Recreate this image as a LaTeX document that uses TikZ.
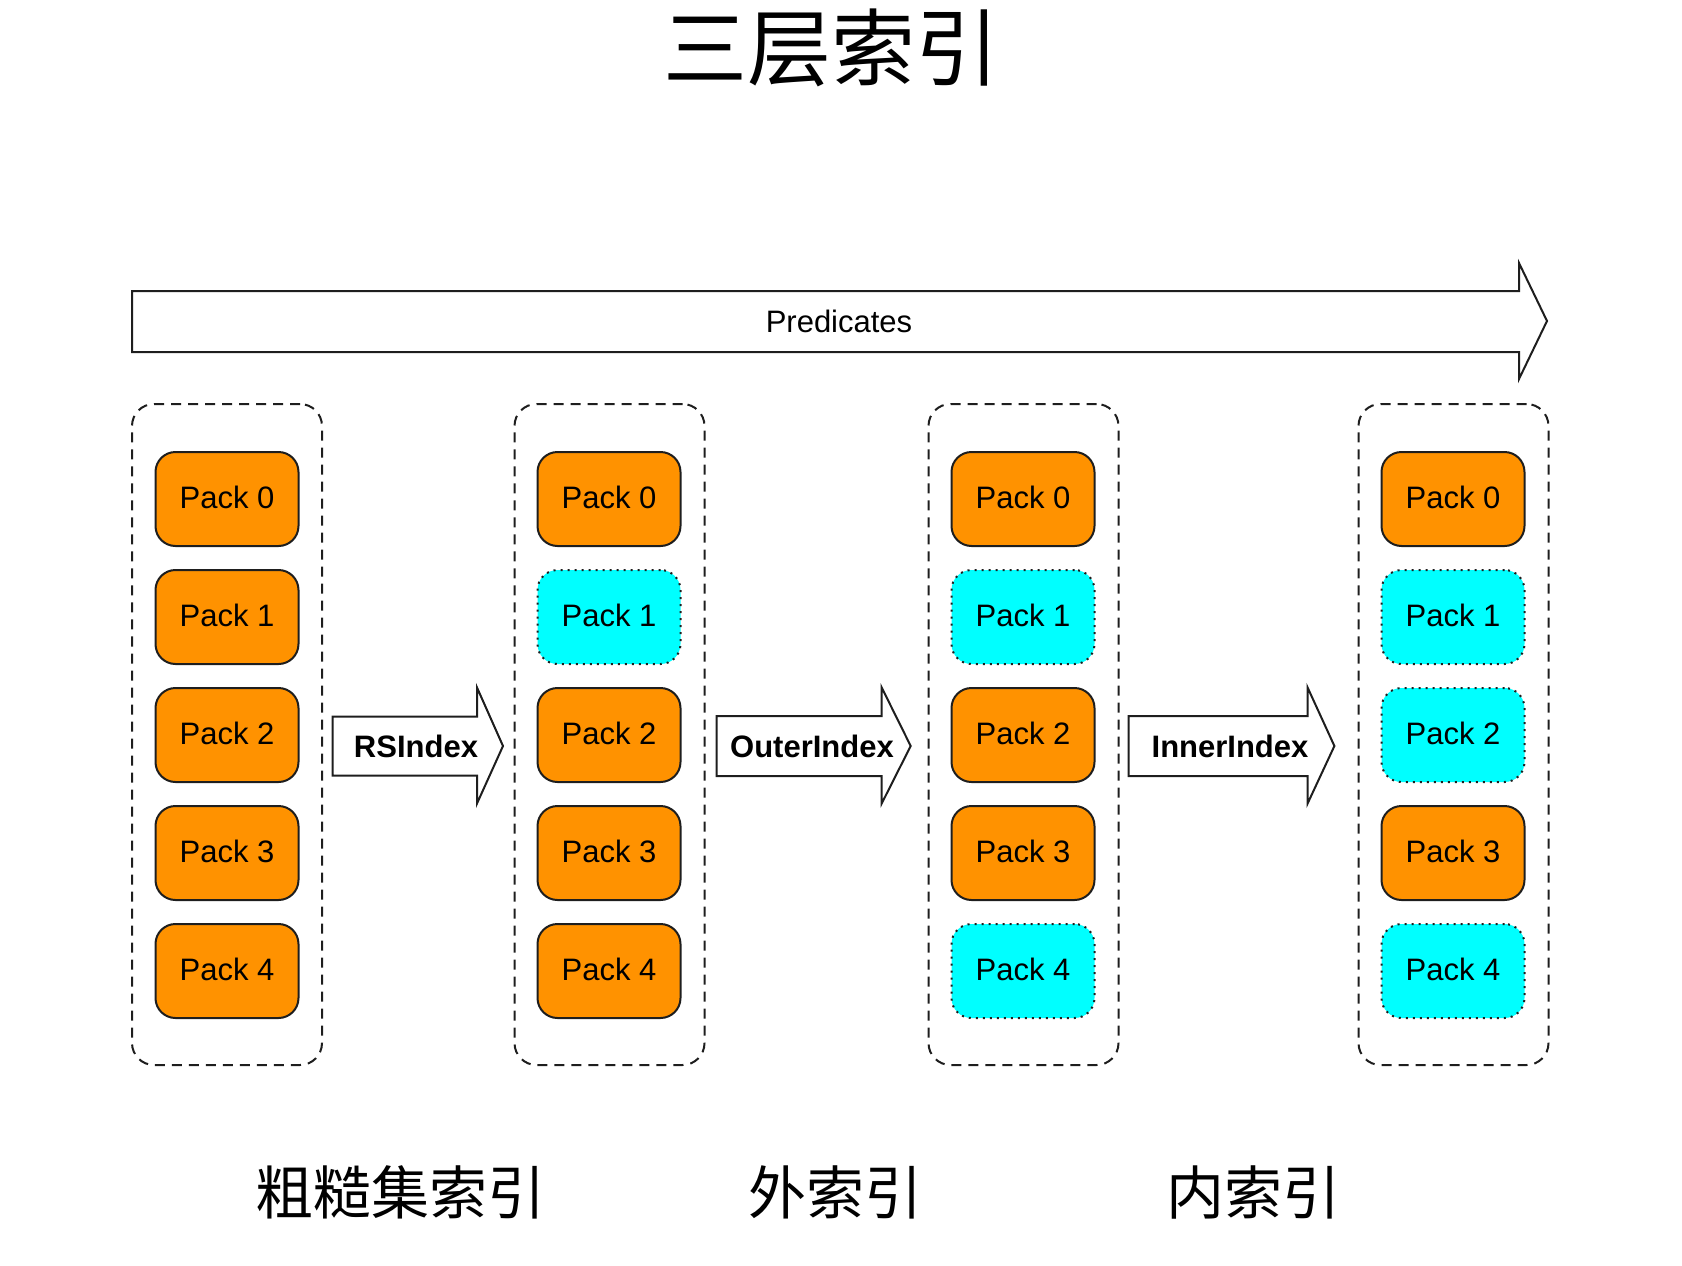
\documentclass[tikz,border=0pt]{standalone}
\usepackage{fontspec}
\setmainfont{Liberation Sans}
\newfontfamily\cjk{Noto Sans CJK SC}
\definecolor{orangeC}{RGB}{255,146,0}
\definecolor{cyanC}{RGB}{0,255,255}
\definecolor{lineC}{RGB}{30,30,30}
\newcommand\pktext[1]{\raisebox{4pt}{Pack #1}}
\begin{document}
\begin{tikzpicture}[x=1pt,y=-1pt,
 pk/.style={draw=lineC, line width=2pt, rounded corners=20pt, minimum width=143pt, minimum height=94pt, font=\fontsize{31}{31}\selectfont, inner sep=0pt},
 og/.style={pk, fill=orangeC},
 cy/.style={pk, fill=cyanC, dash pattern=on 2pt off 5pt},
 cont/.style={draw=lineC, line width=2pt, dash pattern=on 10pt off 7pt, rounded corners=22pt, minimum width=190pt, minimum height=661pt, inner sep=0pt},
 blk/.style={draw=lineC, line width=2pt, fill=white, line join=miter},
 lbl/.style={font=\fontsize{31}{31}\selectfont, inner sep=0pt},
 blbl/.style={font=\bfseries\fontsize{31}{31}\selectfont, inner sep=0pt},
 cjkl/.style={font=\cjk\fontsize{58}{58}\selectfont, inner sep=0pt},
]
\useasboundingbox (0,0) rectangle (1682,1266);

% title
\node[font=\cjk\fontsize{84}{84}\selectfont, inner sep=0pt] (title) at (831,48) {三层索引};

% predicates arrow
\draw[blk] (132,291) coordinate (pa) -- (1519,291) -- (1519,263) -- (1547,321) -- (1519,379) -- (1519,352) -- (132,352) -- cycle;
\node[lbl] (pred) at (839,321) {Predicates};

% containers
\node[cont] (c1) at (227,734.5) {};
\node[cont] (c2) at (609.5,734.5) {};
\node[cont] (c3) at (1023.5,734.5) {};
\node[cont] (c4) at (1453.5,734.5) {};

% column 1
\node[og] (a0) at (227,499) {\pktext{0}};
\node[og] (a1) at (227,617) {\pktext{1}};
\node[og] (a2) at (227,735) {\pktext{2}};
\node[og] (a3) at (227,853) {\pktext{3}};
\node[og] (a4) at (227,971) {\pktext{4}};
% column 2
\node[og] (b0) at (609,499) {\pktext{0}};
\node[cy] (b1) at (609,617) {\pktext{1}};
\node[og] (b2) at (609,735) {\pktext{2}};
\node[og] (b3) at (609,853) {\pktext{3}};
\node[og] (b4) at (609,971) {\pktext{4}};
% column 3
\node[og] (d0) at (1023,499) {\pktext{0}};
\node[cy] (d1) at (1023,617) {\pktext{1}};
\node[og] (d2) at (1023,735) {\pktext{2}};
\node[og] (d3) at (1023,853) {\pktext{3}};
\node[cy] (d4) at (1023,971) {\pktext{4}};
% column 4
\node[og] (e0) at (1453,499) {\pktext{0}};
\node[cy] (e1) at (1453,617) {\pktext{1}};
\node[cy] (e2) at (1453,735) {\pktext{2}};
\node[og] (e3) at (1453,853) {\pktext{3}};
\node[cy] (e4) at (1453,971) {\pktext{4}};

% block arrows
\draw[blk] (332.5,716.5) -- (477,716.5) -- (477,687.5) -- (503,746) -- (477,803.5) -- (477,775.5) -- (332.5,775.5) -- cycle;
\node[blbl] (rs) at (416,746) {RSIndex};
\draw[blk] (716.7,716) -- (881.7,716) -- (881.7,687.5) -- (910.7,746) -- (881.7,803.5) -- (881.7,776) -- (716.7,776) -- cycle;
\node[blbl] (outer) at (812,746) {OuterIndex};
\draw[blk] (1128.5,716) -- (1307.6,716) -- (1307.6,687.5) -- (1334.4,746) -- (1307.6,803.5) -- (1307.6,776) -- (1128.5,776) -- cycle;
\node[blbl] (inner) at (1230,746) {InnerIndex};

% bottom labels
\node[cjkl] (l1) at (400,1192) {粗糙集索引};
\node[cjkl] (l2) at (835,1192) {外索引};
\node[cjkl] (l3) at (1253,1192) {内索引};
\end{tikzpicture}
\end{document}
